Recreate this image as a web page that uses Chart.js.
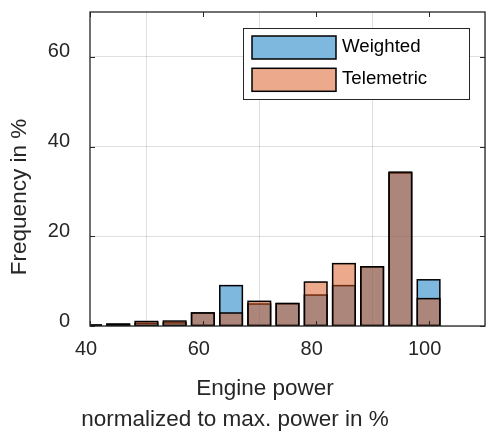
<!DOCTYPE html>
<html>
<head>
<meta charset="utf-8">
<script src="https://cdn.jsdelivr.net/npm/chart.js@4"></script>
<style>
  html, body { margin: 0; padding: 0; background: #fff; }
  #wrap { width: 486px; height: 432px; }
</style>
</head>
<body>
<div id="wrap"><canvas id="chart" width="486" height="432"></canvas></div>
<script>
// Histogram bins (bin centre, engine power in %)
const binCenters = [40, 45, 50, 55, 60, 65, 70, 75, 80, 85, 90, 95, 100];
// Frequency in % per bin
const weighted   = [0.2, 0.4, 0.6, 0.7, 2.9, 9.0, 4.9, 5.0, 6.9, 9.0, 13.2, 34.1, 10.3];
const telemetric = [0.2, 0.4, 1.0, 1.1, 2.9, 2.9, 5.5, 5.0, 9.8, 13.9, 13.2, 34.3, 6.1];
const seriesNames = ['Weighted', 'Telemetric'];
const xTitleLines = ['Engine power', 'normalized to max. power in %'];
const yTitle = 'Frequency in %';

const FONT = '"Liberation Sans", Arial, Helvetica, sans-serif';
const TEXT = '#262626';
const blueFill = 'rgba(0,114,189,0.5)';
const orangeFill = 'rgba(217,83,25,0.5)';

function toPoints(vals) {
  return binCenters.map((x, i) => ({ x: x, y: vals[i] }));
}

// bar outlines centred on the edges (like MATLAB), drawn right after each dataset
const outlines = {
  id: 'outlines',
  afterDatasetDraw(chart, args) {
    const { ctx, chartArea: a } = chart;
    ctx.save();
    ctx.beginPath();
    ctx.rect(a.left, a.top, a.right - a.left, a.bottom - a.top);
    ctx.clip();
    ctx.strokeStyle = '#000';
    ctx.lineWidth = 1.5;
    args.meta.data.forEach(el => {
      const p = el.getProps(['x', 'y', 'base', 'width'], true);
      ctx.strokeRect(p.x - p.width / 2, p.y, p.width, p.base - p.y);
    });
    ctx.restore();
  }
};

// MATLAB-like frame: box, inward ticks, legend, axis titles
const frame = {
  id: 'frame',
  afterDraw(chart) {
    const { ctx, chartArea: a, scales } = chart;
    ctx.save();

    // inward ticks
    ctx.strokeStyle = TEXT;
    ctx.lineWidth = 1;
    const tl = 5;
    ctx.beginPath();
    scales.x.ticks.forEach(t => {
      const px = Math.round(scales.x.getPixelForValue(t.value)) + 0.5;
      ctx.moveTo(px, a.bottom); ctx.lineTo(px, a.bottom - tl);
      ctx.moveTo(px, a.top); ctx.lineTo(px, a.top + tl);
    });
    scales.y.ticks.forEach(t => {
      const py = Math.round(scales.y.getPixelForValue(t.value)) + 0.5;
      ctx.moveTo(a.left, py); ctx.lineTo(a.left + tl, py);
      ctx.moveTo(a.right, py); ctx.lineTo(a.right - tl, py);
    });
    ctx.stroke();

    // box
    ctx.lineWidth = 1.3;
    ctx.strokeRect(a.left, a.top, a.right - a.left, a.bottom - a.top);

    // legend
    const lx = 243, ly = 28, lw = 226, lh = 71;
    ctx.fillStyle = '#fff';
    ctx.fillRect(lx, ly, lw, lh);
    ctx.lineWidth = 1;
    ctx.strokeStyle = TEXT;
    ctx.strokeRect(lx + 0.5, ly + 0.5, lw, lh);
    const fills = [blueFill, orangeFill];
    ctx.font = '18.7px ' + FONT;
    ctx.textBaseline = 'middle';
    ctx.textAlign = 'left';
    seriesNames.forEach((name, i) => {
      const sy = 36 + i * 32.3;
      ctx.fillStyle = fills[i];
      ctx.fillRect(252, sy, 84, 23);
      ctx.lineWidth = 1.5;
      ctx.strokeStyle = '#000';
      ctx.strokeRect(252, sy, 84, 23);
      ctx.fillStyle = '#000';
      ctx.fillText(name, 342, sy + 11);
    });

    // axis titles
    ctx.fillStyle = TEXT;
    ctx.font = '22.5px ' + FONT;
    ctx.textAlign = 'center';
    ctx.fillText(xTitleLines[0], 265, 389);
    ctx.fillText(xTitleLines[1], 235, 420);
    ctx.translate(20, 197);
    ctx.rotate(-Math.PI / 2);
    ctx.fillText(yTitle, 0, 0);
    ctx.restore();
  }
};

const barStyle = {
  borderWidth: 0,
  inflateAmount: 0,
  barPercentage: 1.0,
  categoryPercentage: 0.8,
  grouped: false
};

const ctx = document.getElementById('chart').getContext('2d');
new Chart(ctx, {
  type: 'bar',
  data: {
    datasets: [
      Object.assign({ label: seriesNames[0], data: toPoints(weighted), backgroundColor: blueFill, order: 2 }, barStyle),
      Object.assign({ label: seriesNames[1], data: toPoints(telemetric), backgroundColor: orangeFill, order: 1 }, barStyle)
    ]
  },
  options: {
    responsive: false,
    animation: false,
    layout: { padding: { left: 0, right: 1, top: 12, bottom: 0 } },
    plugins: {
      legend: { display: false },
      tooltip: { enabled: false }
    },
    scales: {
      x: {
        type: 'linear',
        min: 40,
        max: 110,
        offset: false,
        border: { display: false },
        grid: { color: 'rgba(38,38,38,0.15)', drawTicks: false },
        ticks: {
          stepSize: 20,
          includeBounds: false,
          padding: 11,
          labelOffset: -4,
          color: TEXT,
          font: { family: FONT, size: 20 },
          maxRotation: 0
        },
        afterFit(scale) {
          scale.height = 106;
          scale.paddingLeft = 0;
          scale.paddingRight = 0;
        }
      },
      y: {
        min: 0,
        max: 70,
        border: { display: false },
        grid: { color: 'rgba(38,38,38,0.15)', drawTicks: false },
        ticks: {
          stepSize: 20,
          includeBounds: false,
          padding: 20,
          labelOffset: -5,
          color: TEXT,
          font: { family: FONT, size: 20 }
        },
        afterFit(scale) {
          scale.width = 90;
          scale.paddingTop = 0;
          scale.paddingBottom = 0;
        }
      }
    }
  },
  plugins: [outlines, frame]
});
</script>
</body>
</html>
